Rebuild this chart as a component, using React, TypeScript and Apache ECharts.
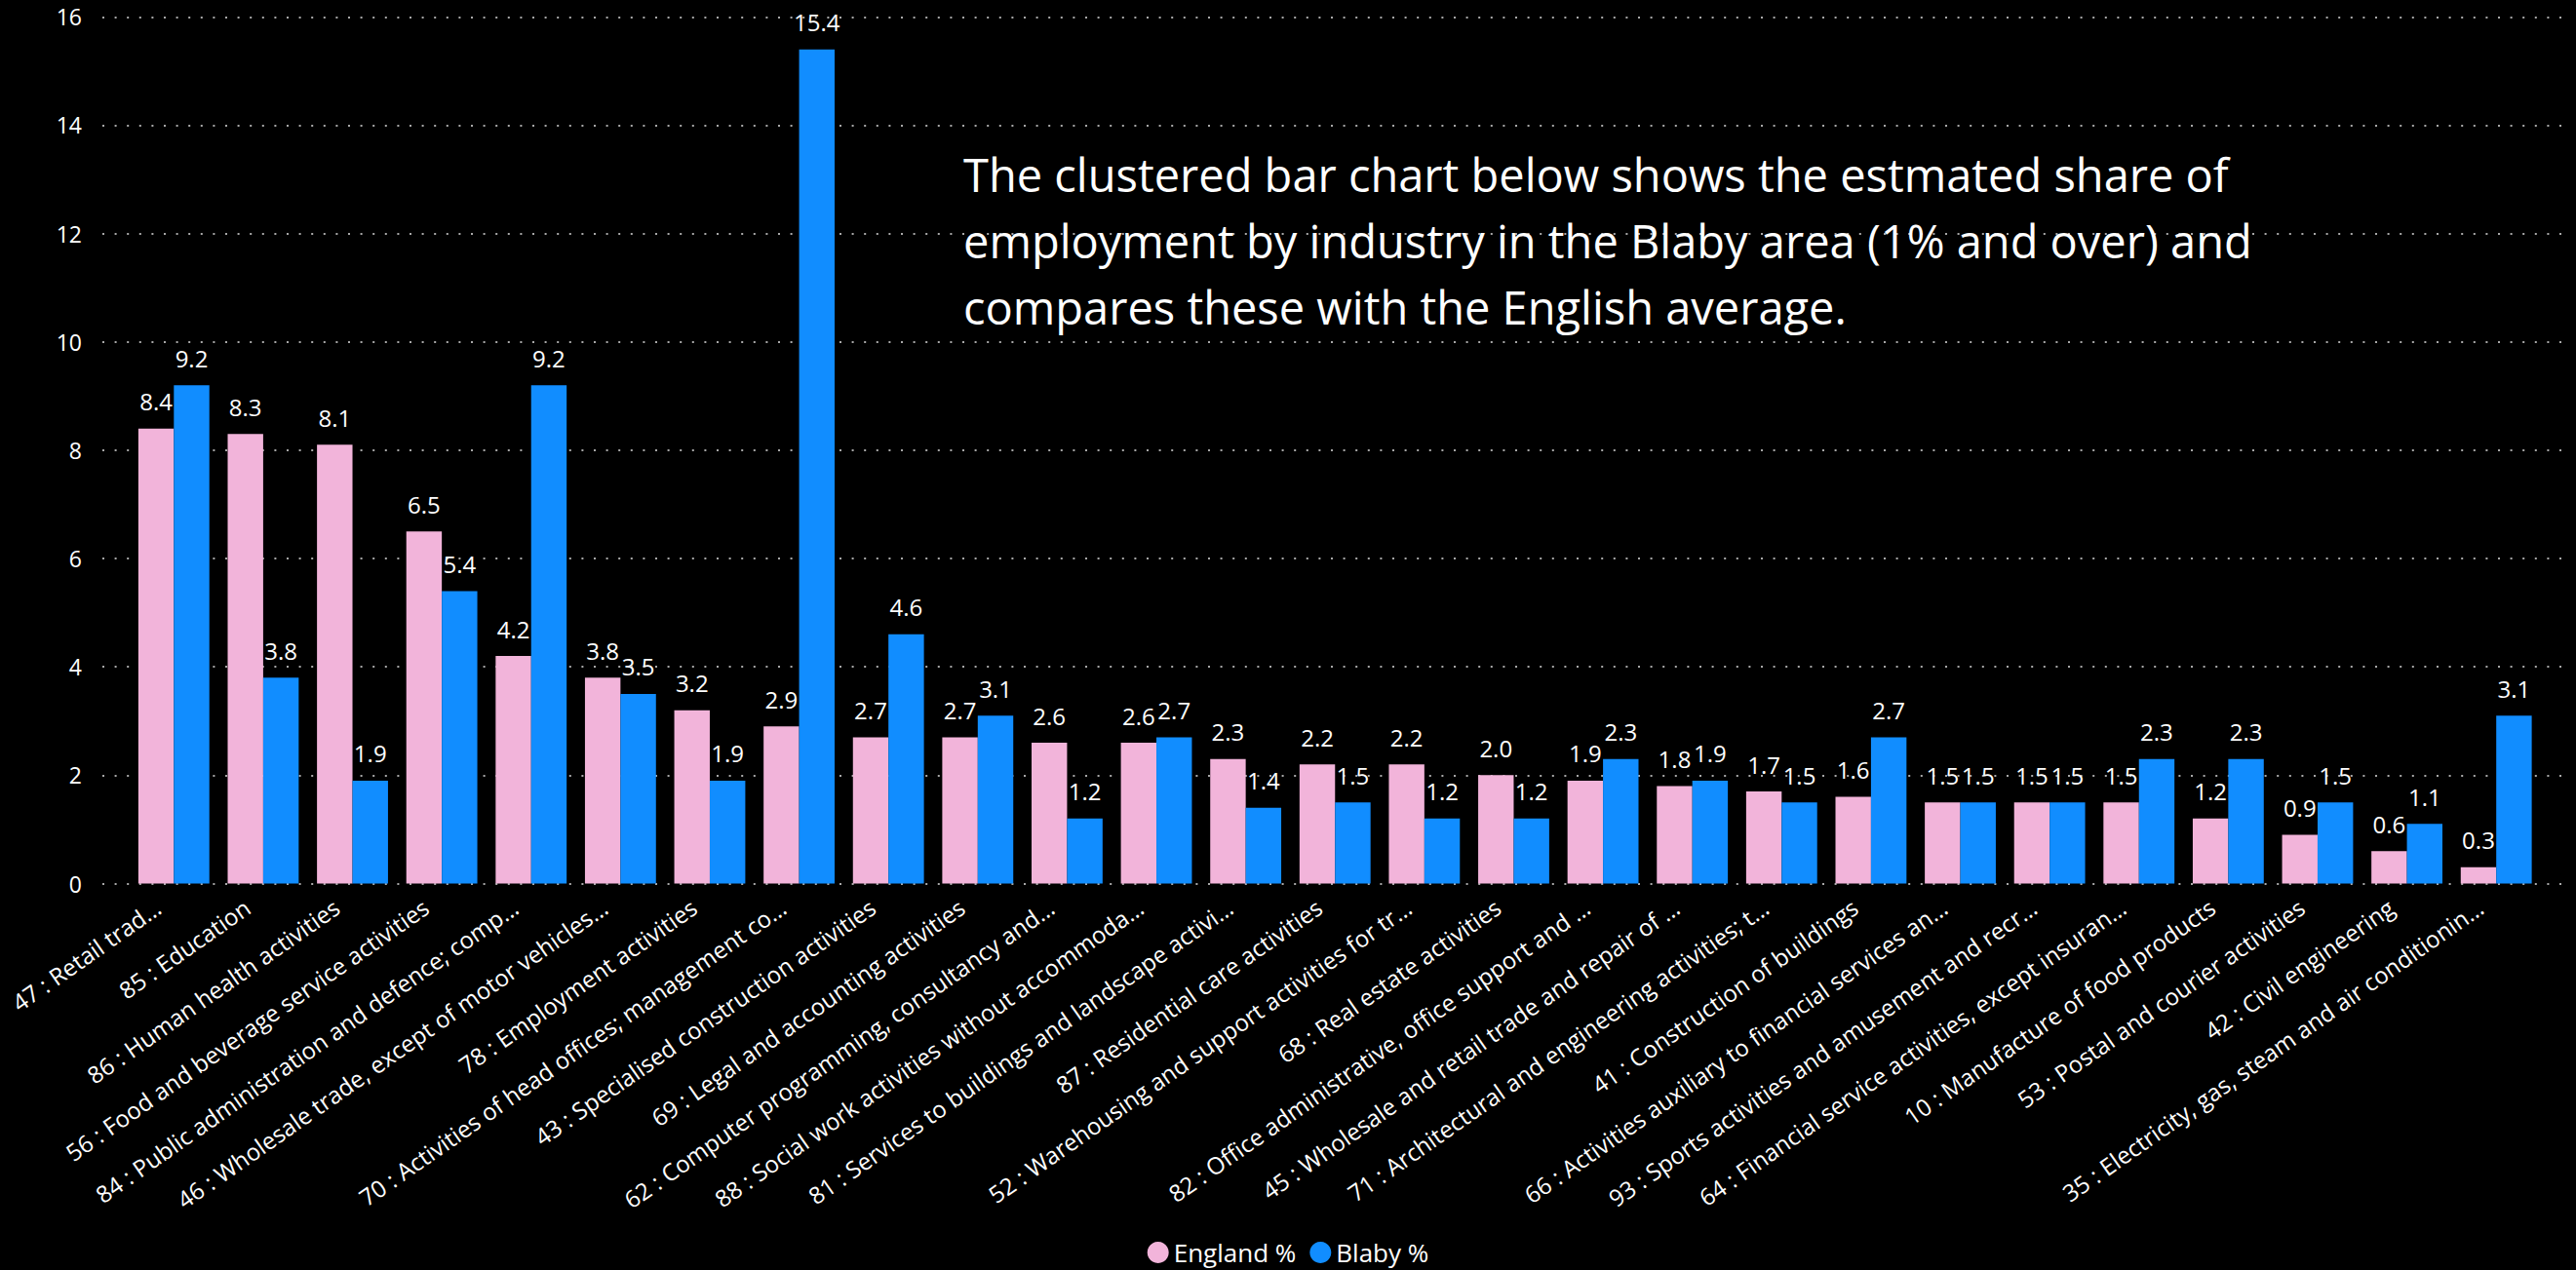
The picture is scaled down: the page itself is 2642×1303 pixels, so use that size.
import React, { useEffect, useRef } from "react";
import * as echarts from "echarts";

const categories: string[] = [
  "47 : Retail trad…",
  "85 : Education",
  "86 : Human health activities",
  "56 : Food and beverage service activities",
  "84 : Public administration and defence; comp…",
  "46 : Wholesale trade, except of motor vehicles…",
  "78 : Employment activities",
  "70 : Activities of head offices; management co…",
  "43 : Specialised construction activities",
  "69 : Legal and accounting activities",
  "62 : Computer programming, consultancy and…",
  "88 : Social work activities without accommoda…",
  "81 : Services to buildings and landscape activi…",
  "87 : Residential care activities",
  "52 : Warehousing and support activities for tr…",
  "68 : Real estate activities",
  "82 : Office administrative, office support and …",
  "45 : Wholesale and retail trade and repair of …",
  "71 : Architectural and engineering activities; t…",
  "41 : Construction of buildings",
  "66 : Activities auxiliary to financial services an…",
  "93 : Sports activities and amusement and recr…",
  "64 : Financial service activities, except insuran…",
  "10 : Manufacture of food products",
  "53 : Postal and courier activities",
  "42 : Civil engineering",
  "35 : Electricity, gas, steam and air conditionin…",
];

const englandPct: number[] = [
  8.4, 8.3, 8.1, 6.5, 4.2, 3.8, 3.2, 2.9, 2.7, 2.7, 2.6, 2.6, 2.3, 2.2, 2.2,
  2.0, 1.9, 1.8, 1.7, 1.6, 1.5, 1.5, 1.5, 1.2, 0.9, 0.6, 0.3,
];

const blabyPct: number[] = [
  9.2, 3.8, 1.9, 5.4, 9.2, 3.5, 1.9, 15.4, 4.6, 3.1, 1.2, 2.7, 1.4, 1.5, 1.2,
  1.2, 2.3, 1.9, 1.5, 2.7, 1.5, 1.5, 2.3, 2.3, 1.5, 1.1, 3.1,
];

const seriesNames: string[] = ["England %", "Blaby %"];
const titleText =
  "The clustered bar chart below shows the estmated share of\nemployment by industry in the Blaby area (1% and over) and\ncompares these with the English average.";

const FONT = "'Open Sans', 'Noto Sans', sans-serif";

export default function App() {
  const ref = useRef<HTMLDivElement>(null);

  useEffect(() => {
    if (!ref.current) return;
    const chart = echarts.init(ref.current, undefined, { renderer: "svg" });
    const labelStyle = {
      show: true,
      position: "top" as const,
      distance: 16,
      color: "#ffffff",
      fontSize: 24,
      fontFamily: FONT,
      formatter: (p: any) => Number(p.value).toFixed(1),
    };
    chart.setOption({
      animation: false,
      backgroundColor: "#000000",
      textStyle: { fontFamily: FONT },
      title: {
        text: titleText,
        left: 983,
        top: 140,
        textStyle: {
          color: "#ffffff",
          fontSize: 47,
          fontWeight: "normal",
          lineHeight: 68,
          fontFamily: FONT,
        },
      },
      legend: {
        data: seriesNames,
        left: "center",
        top: 1267,
        icon: "circle",
        itemWidth: 22,
        itemHeight: 22,
        itemGap: 14,
        textStyle: { color: "#ffffff", fontSize: 26, fontFamily: FONT },
      },
      grid: [
        { left: 105, right: 15, top: 17.3, bottom: 396.5, containLabel: false },
        { left: 132.5, right: 36, top: 17.3, bottom: 396.5, containLabel: false },
      ],
      xAxis: [
        { type: "value", gridIndex: 0, show: false, min: 0, max: 1 },
        {
          type: "category",
          gridIndex: 1,
          data: categories,
          axisLine: { show: false },
          axisTick: { show: false },
          axisLabel: {
            interval: 0,
            rotate: 35,
            margin: 10,
            padding: [0, 20, 0, 0],
            color: "#ffffff",
            fontSize: 24,
            fontFamily: FONT,
          },
        },
      ],
      yAxis: [
        {
          type: "value",
          gridIndex: 0,
          min: 0,
          max: 16,
          interval: 2,
          axisLine: { show: false },
          axisTick: { show: false },
          axisLabel: {
            margin: 21,
            color: "#ffffff",
            fontSize: 23,
            fontFamily: FONT,
          },
          splitLine: {
            show: true,
            lineStyle: { color: "#a8a8a8", width: 2, type: [2, 10.6] },
          },
        },
        {
          type: "value",
          gridIndex: 1,
          min: 0,
          max: 16,
          interval: 2,
          show: false,
          splitLine: { show: false },
        },
      ],
      series: [
        {
          name: seriesNames[0],
          type: "bar",
          xAxisIndex: 1,
          yAxisIndex: 1,
          data: englandPct,
          barGap: "0%",
          barCategoryGap: "20.5%",
          itemStyle: { color: "#F2B4DA" },
          label: labelStyle,
        },
        {
          name: seriesNames[1],
          type: "bar",
          xAxisIndex: 1,
          yAxisIndex: 1,
          data: blabyPct,
          barGap: "0%",
          barCategoryGap: "20.5%",
          itemStyle: { color: "#118DFF" },
          label: labelStyle,
        },
      ],
    });
    return () => chart.dispose();
  }, []);

  return (
    <div
      ref={ref}
      style={{ position: "fixed", left: 0, top: 0, width: 2642, height: 1303 }}
    />
  );
}
